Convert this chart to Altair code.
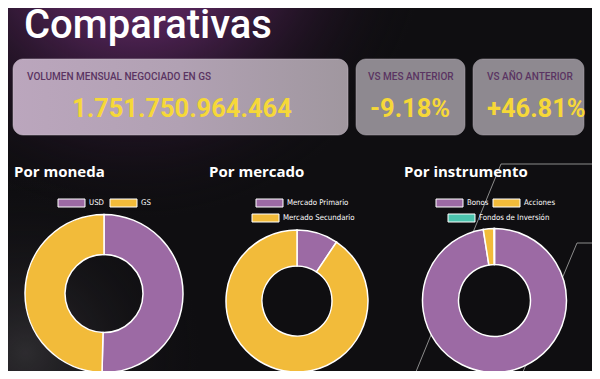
import altair as alt
import pandas as pd

# ---------------- data ----------------
title_text = "Comparativas"
kpi_labels = ["VOLUMEN MENSUAL NEGOCIADO EN GS", "VS MES ANTERIOR", "VS AÑO ANTERIOR"]
kpi_values = ["1.751.750.964.464", "-9.18%", "+46.81%"]
panel_titles = ["Por moneda", "Por mercado", "Por instrumento"]

moneda_cats = ["USD", "GS"]
moneda_vals = [50.4, 49.6]
mercado_cats = ["Mercado Primario", "Mercado Secundario"]
mercado_vals = [9.4, 90.6]
instr_cats = ["Bonos", "Acciones", "Fondos de Inversión"]
instr_vals = [97.5, 2.4, 0.1]

# ---------------- style ----------------
PURPLE = "#9c6aa4"
YELLOW = "#f2bb3a"
TEAL = "#4cc4ae"
color_domain = moneda_cats + mercado_cats + instr_cats
color_range = [PURPLE, YELLOW, PURPLE, YELLOW, PURPLE, YELLOW, TEAL]
cscale = alt.Scale(domain=color_domain, range=color_range)

W, H = 584, 363
one = pd.DataFrame({"a": [0]})

# background with glows
bg = alt.Chart(one).mark_rect(color="#0f0e11").encode(
    x=alt.value(0), x2=alt.value(W), y=alt.value(0), y2=alt.value(H))
glow_purple = alt.Chart(one).mark_rect(fill={
    "gradient": "radial",
    "stops": [
        {"offset": 0, "color": "rgba(120,52,125,1)"},
        {"offset": 0.35, "color": "rgba(90,38,95,0.85)"},
        {"offset": 0.7, "color": "rgba(45,22,48,0.45)"},
        {"offset": 1, "color": "rgba(15,14,17,0)"}],
    "x1": 0.22, "y1": 0.05, "r1": 0,
    "x2": 0.22, "y2": 0.05, "r2": 0.5}).encode(
    x=alt.value(0), x2=alt.value(W), y=alt.value(0), y2=alt.value(H))
glow_gray = alt.Chart(one).mark_rect(fill={
    "gradient": "radial",
    "stops": [
        {"offset": 0, "color": "rgba(70,68,72,0.55)"},
        {"offset": 1, "color": "rgba(15,14,17,0)"}],
    "x1": 0.03, "y1": 0.78, "r1": 0,
    "x2": 0.03, "y2": 0.78, "r2": 0.3}).encode(
    x=alt.value(0), x2=alt.value(W), y=alt.value(0), y2=alt.value(H))

# decorative lines
lines_df = pd.DataFrame({
    "x": [493, 493, 569, 569], "y": [156, 156, 235, 235],
    "x2": [592, 405, 592, 512], "y2": [156, 371, 235, 371]})
deco = alt.Chart(lines_df).mark_rule(color="#8c8c8c", strokeWidth=1).encode(
    x=alt.X("x:Q", scale=None), y=alt.Y("y:Q", scale=None),
    x2="x2:Q", y2="y2:Q")

# title
title = alt.Chart(pd.DataFrame({"t": [title_text]})).mark_text(
    font="Roboto", fontSize=40, fontWeight=500, color="white",
    align="left", baseline="alphabetic").encode(
    x=alt.value(16), y=alt.value(30), text="t:N")

# KPI boxes
box_big = alt.Chart(one).mark_rect(
    fill={"gradient": "linear",
          "stops": [{"offset": 0, "color": "#bba6bd"},
                    {"offset": 0.5, "color": "#b1a1b3"},
                    {"offset": 1, "color": "#a0979f"}],
          "x1": 0, "y1": 0, "x2": 1, "y2": 0},
    cornerRadius=10, stroke="#d0c4d2", strokeOpacity=0.5, strokeWidth=1).encode(
    x=alt.value(5), x2=alt.value(340), y=alt.value(51), y2=alt.value(127))
boxes_df = pd.DataFrame({"x": [348, 465], "x2": [457, 576],
                         "y": [51, 51], "y2": [127, 127]})
boxes = alt.Chart(boxes_df).mark_rect(
    fill="#8e8990", cornerRadius=10,
    stroke="#b0aab2", strokeOpacity=0.5, strokeWidth=1).encode(
    x=alt.X("x:Q", scale=None), x2="x2:Q",
    y=alt.Y("y:Q", scale=None), y2="y2:Q")

lab_df = pd.DataFrame({"t": kpi_labels, "x": [19, 360, 479], "y": [69, 69, 69]})
kpi_lab = alt.Chart(lab_df).mark_text(
    font="Roboto", fontSize=10, fontWeight=500, color="#5a3462",
    align="left", baseline="middle").encode(
    x=alt.X("x:Q", scale=None), y=alt.Y("y:Q", scale=None), text="t:N")

val_df = pd.DataFrame({"t": kpi_values, "x": [64, 362, 479], "y": [109, 109, 109]})
kpi_val = alt.Chart(val_df).mark_text(
    font="Roboto", fontSize=25.5, fontWeight="bold", color="#f6d838",
    align="left", baseline="alphabetic").encode(
    x=alt.X("x:Q", scale=None), y=alt.Y("y:Q", scale=None), text="t:N")

# panel titles
pt_df = pd.DataFrame({"t": panel_titles, "x": [6, 201, 396], "y": [169, 169, 169]})
ptitles = alt.Chart(pt_df).mark_text(
    font="Open Sans", fontSize=15, fontWeight="bold", color="white",
    align="left", baseline="alphabetic").encode(
    x=alt.X("x:Q", scale=None), y=alt.Y("y:Q", scale=None), text="t:N")

# legends (positions computed here, labels/categories from data arrays)
leg_cats = moneda_cats + mercado_cats + instr_cats
leg_sx = [50, 102, 248, 244, 428, 485, 440]
leg_sy = [191, 191, 191, 206, 191, 191, 206]
leg_df = pd.DataFrame({"cat": leg_cats, "x": leg_sx, "y": leg_sy})
leg_df["x2"] = leg_df["x"] + 27
leg_df["y2"] = leg_df["y"] + 8
leg_df["tx"] = leg_df["x2"] + 4
leg_df["ty"] = leg_df["y"] + 4
leg_sw = alt.Chart(leg_df).mark_rect(stroke="white", strokeWidth=1).encode(
    x=alt.X("x:Q", scale=None), x2="x2:Q",
    y=alt.Y("y:Q", scale=None), y2="y2:Q",
    color=alt.Color("cat:N", scale=cscale, legend=None))
leg_tx = alt.Chart(leg_df).mark_text(
    font="Liberation Sans Narrow, DejaVu Sans Condensed, Roboto", fontSize=7.8,
    color="white", align="left", baseline="middle").encode(
    x=alt.X("tx:Q", scale=None), y=alt.Y("ty:Q", scale=None), text="cat:N")


def donut(cats, vals, cx, cy, R, r):
    df = pd.DataFrame({"cat": cats, "val": vals, "idx": list(range(len(cats)))})
    return alt.Chart(df).mark_arc(
        outerRadius=R, innerRadius=r, stroke="white", strokeWidth=1.5).encode(
        theta=alt.Theta("val:Q", stack=True),
        color=alt.Color("cat:N", scale=cscale, legend=None),
        order=alt.Order("idx:Q"),
        x=alt.value(cx), y=alt.value(cy))


d1 = donut(moneda_cats, moneda_vals, 96, 285.5, 79, 39)
d2 = donut(mercado_cats, mercado_vals, 289, 293, 71, 35)
d3 = donut(instr_cats, instr_vals, 486.5, 292.5, 72, 36)

chart = alt.layer(
    bg, glow_purple, glow_gray, deco, title, box_big, boxes, kpi_lab, kpi_val,
    ptitles, d1, d2, d3, leg_sw, leg_tx
).resolve_scale(theta="independent").properties(
    width=W, height=H, padding=0, autosize="none", background="#0f0e11"
).configure_view(strokeWidth=0)

chart.save("out.html", embed_options={"renderer": "svg", "actions": False})
